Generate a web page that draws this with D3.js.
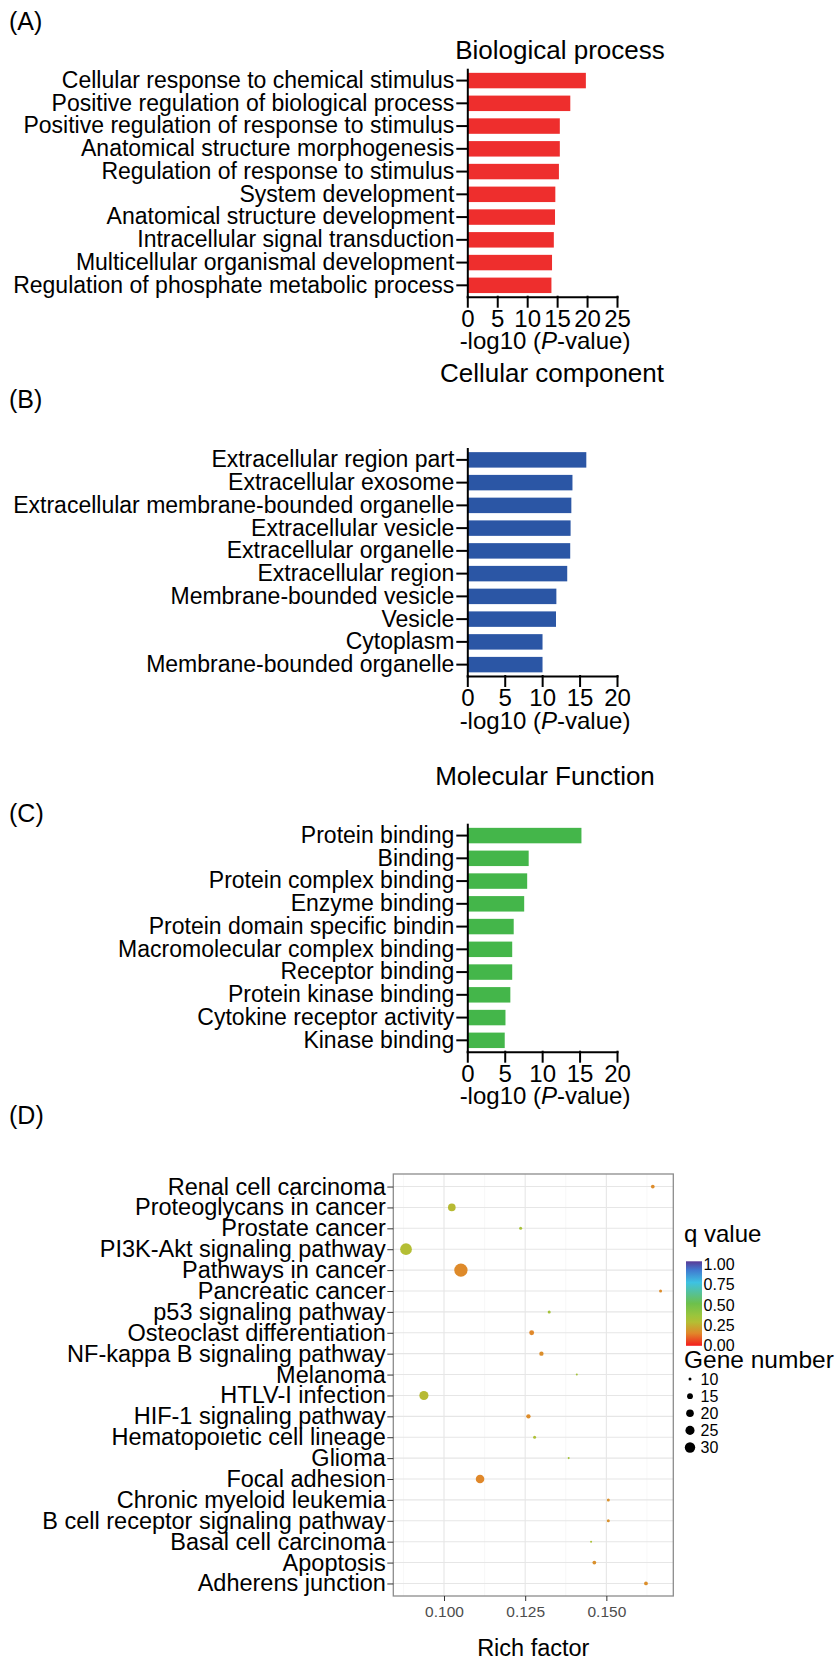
<!DOCTYPE html>
<html>
<head>
<meta charset="utf-8">
<script src="https://cdn.jsdelivr.net/npm/d3@7"></script>
<style>
  body { margin: 0; background: #fff; }
  svg { display: block; font-family: "Liberation Sans", Arial, Helvetica, sans-serif; }
</style>
</head>
<body>
<div id="chart"></div>
<script>
// GO enrichment, -log10(P-value)
const bpTerms = [
  'Cellular response to chemical stimulus',
  'Positive regulation of biological process',
  'Positive regulation of response to stimulus',
  'Anatomical structure morphogenesis',
  'Regulation of response to stimulus',
  'System development',
  'Anatomical structure development',
  'Intracellular signal transduction',
  'Multicellular organismal development',
  'Regulation of phosphate metabolic process'
]
const bpValues = [19.8, 17.2, 15.45, 15.45, 15.3, 14.7, 14.65, 14.45, 14.15, 14.05]
const bpTicks = [0, 5, 10, 15, 20, 25]

const ccTerms = [
  'Extracellular region part',
  'Extracellular exosome',
  'Extracellular membrane-bounded organelle',
  'Extracellular vesicle',
  'Extracellular organelle',
  'Extracellular region',
  'Membrane-bounded vesicle',
  'Vesicle',
  'Cytoplasm',
  'Membrane-bounded organelle'
]
const ccValues = [15.9, 14.05, 13.9, 13.8, 13.75, 13.35, 11.9, 11.85, 10.05, 10.05]
const ccTicks = [0, 5, 10, 15, 20]

const mfTerms = [
  'Protein binding',
  'Binding',
  'Protein complex binding',
  'Enzyme binding',
  'Protein domain specific bindin',
  'Macromolecular complex binding',
  'Receptor binding',
  'Protein kinase binding',
  'Cytokine receptor activity',
  'Kinase binding'
]
const mfValues = [15.25, 8.2, 8.0, 7.6, 6.2, 6.0, 6.0, 5.75, 5.1, 5.0]
const mfTicks = [0, 5, 10, 15, 20]

// KEGG pathways
const keggPathways = [
  'Renal cell carcinoma', 'Proteoglycans in cancer', 'Prostate cancer',
  'PI3K-Akt signaling pathway', 'Pathways in cancer', 'Pancreatic cancer',
  'p53 signaling pathway', 'Osteoclast differentiation', 'NF-kappa B signaling pathway',
  'Melanoma', 'HTLV-I infection', 'HIF-1 signaling pathway',
  'Hematopoietic cell lineage', 'Glioma', 'Focal adhesion',
  'Chronic myeloid leukemia', 'B cell receptor signaling pathway', 'Basal cell carcinoma',
  'Apoptosis', 'Adherens junction'
]
const keggRichFactor = [
  0.1643, 0.1024, 0.1236, 0.0883, 0.1052, 0.1667, 0.1324, 0.1270, 0.1300, 0.1409,
  0.0938, 0.1260, 0.1279, 0.1384, 0.1111, 0.1506, 0.1506, 0.1453, 0.1463, 0.1622
]
const keggGeneNumber = [11, 20, 10, 36, 44, 10, 10, 13, 12, 9, 25, 12, 10, 9, 23, 10, 10, 9, 11, 11]
const keggQValue = [
  0.16, 0.27, 0.32, 0.28, 0.155, 0.16, 0.33, 0.15, 0.165, 0.33,
  0.27, 0.16, 0.30, 0.33, 0.15, 0.17, 0.17, 0.31, 0.17, 0.165
]
const richTicks = [0.100, 0.125, 0.150]
const qTicks = [0, 0.25, 0.5, 0.75, 1]
const geneTicks = [10, 15, 20, 25, 30]

// colour ramp for q value
const qStops = [0, 0.15, 0.28, 0.36, 0.5, 0.75, 0.9, 1]
const qColors = ['#f41c1c', '#e0882a', '#b4be34', '#9ac53c', '#6dc04c', '#3ec2e2', '#4178cf', '#5a3a96']

const svg = d3.select('#chart').append('svg')
  .attr('width', 839)
  .attr('height', 1660)

// ---------- bar panels (A-C) ----------
function barPanel(o) {
  const g = svg.append('g')
  const x = d3.scaleLinear().domain([0, d3.max(o.ticks)]).range([467.3, 617])
  const y = d3.scaleBand()
    .domain(o.terms)
    .range([o.bottom - 227.5, o.bottom])
    .paddingInner(0.32)
    .paddingOuter(0.16)

  g.append('text')
    .attr('x', 9).attr('y', o.letterY)
    .style('font-size', '25px')
    .text(o.letter)

  g.append('text')
    .attr('x', o.titleX).attr('y', o.titleY)
    .attr('text-anchor', 'middle')
    .style('font-size', '26px')
    .text(o.title)

  g.selectAll('rect.bar')
    .data(o.values)
    .join('rect')
    .attr('class', 'bar')
    .attr('x', x(0))
    .attr('y', (d, i) => y(o.terms[i]))
    .attr('width', d => x(d) - x(0))
    .attr('height', y.bandwidth())
    .style('fill', o.color)

  const yAxis = g.append('g')
    .attr('transform', `translate(${x(0)},0)`)
    .call(d3.axisLeft(y).tickSize(10).tickPadding(3).tickSizeOuter(0))
  yAxis.attr('font-size', null).attr('font-family', null)
  yAxis.selectAll('text').style('font-size', '23px').style('fill', '#000')

  const xAxis = g.append('g')
    .attr('transform', `translate(0,${o.bottom})`)
    .call(d3.axisBottom(x).tickValues(o.ticks).tickSize(10).tickPadding(3).tickSizeOuter(0))
  xAxis.attr('font-size', null).attr('font-family', null)
  xAxis.selectAll('text').style('font-size', '24px').style('fill', '#000')

  g.selectAll('.domain, .tick line')
    .style('stroke', '#000')
    .style('stroke-width', 2)
    .style('stroke-linecap', 'square')

  const t = g.append('text')
    .attr('x', 545).attr('y', o.bottom + 52.5)
    .attr('text-anchor', 'middle')
    .style('font-size', '24px')
  t.append('tspan').text('-log10 (')
  t.append('tspan').style('font-style', 'italic').text('P')
  t.append('tspan').text('-value)')
}

barPanel({ letter: '(A)', letterY: 30, title: 'Biological process', titleX: 560, titleY: 59,
  terms: bpTerms, values: bpValues, ticks: bpTicks, color: '#ee2e2d', bottom: 296.7 })
barPanel({ letter: '(B)', letterY: 407.5, title: 'Cellular component', titleX: 552, titleY: 382,
  terms: ccTerms, values: ccValues, ticks: ccTicks, color: '#2b56a5', bottom: 676 })
barPanel({ letter: '(C)', letterY: 822, title: 'Molecular Function', titleX: 545, titleY: 785,
  terms: mfTerms, values: mfValues, ticks: mfTicks, color: '#44b64a', bottom: 1051.7 })

// ---------- KEGG bubble panel (D) ----------
const d = svg.append('g')
d.append('text')
  .attr('x', 9).attr('y', 1124)
  .style('font-size', '25px')
  .text('(D)')

const [rMin, rMax] = d3.extent(keggRichFactor)
const pad = (rMax - rMin) * 0.05
const rx = d3.scaleLinear().domain([rMin - pad, rMax + pad]).range([393.3, 673.3])
const ry = d3.scalePoint().domain(keggPathways).range([1174, 1596]).padding(0.6)
const color = d3.scaleLinear().domain(qStops).range(qColors).clamp(true)
const area = d3.scaleLinear().domain([10, 30]).range([2.25, 27])
const radius = n => Math.sqrt(Math.max(area(n), 0.8))

const [px0, px1] = rx.range()
const [py0, py1] = ry.range()

// grid
const step = richTicks[1] - richTicks[0]
const minor = richTicks.map(t => t - step / 2).concat([richTicks[richTicks.length - 1] + step / 2])
  .filter(v => v > rx.domain()[0] && v < rx.domain()[1])
d.selectAll('line.minor')
  .data(minor)
  .join('line')
  .attr('x1', v => rx(v)).attr('x2', v => rx(v))
  .attr('y1', py0).attr('y2', py1)
  .style('stroke', '#f3f3f3').style('stroke-width', 0.7)
d.selectAll('line.vmajor')
  .data(richTicks)
  .join('line')
  .attr('x1', v => rx(v)).attr('x2', v => rx(v))
  .attr('y1', py0).attr('y2', py1)
  .style('stroke', '#e6e6e6').style('stroke-width', 1.1)
d.selectAll('line.hmajor')
  .data(keggPathways)
  .join('line')
  .attr('x1', px0).attr('x2', px1)
  .attr('y1', c => ry(c)).attr('y2', c => ry(c))
  .style('stroke', '#e6e6e6').style('stroke-width', 1.1)

// bubbles
d.selectAll('circle.pt')
  .data(keggPathways)
  .join('circle')
  .attr('cx', (c, i) => rx(keggRichFactor[i]))
  .attr('cy', c => ry(c))
  .attr('r', (c, i) => radius(keggGeneNumber[i]))
  .style('fill', (c, i) => color(keggQValue[i]))

d.append('rect')
  .attr('x', px0).attr('y', py0)
  .attr('width', px1 - px0).attr('height', py1 - py0)
  .style('fill', 'none').style('stroke', '#8c8c8c').style('stroke-width', 1.3)

const dy = d.append('g')
  .attr('transform', `translate(${px0},0)`)
  .call(d3.axisLeft(ry).tickSize(6).tickPadding(1.5))
dy.attr('font-size', null).attr('font-family', null)
dy.select('.domain').remove()
dy.selectAll('.tick line').style('stroke', '#333').style('stroke-width', 1)
dy.selectAll('text').style('font-size', '23.5px').style('fill', '#000')

const dx = d.append('g')
  .attr('transform', `translate(0,${py1})`)
  .call(d3.axisBottom(rx).tickValues(richTicks).tickFormat(d3.format('.3f')).tickSize(5).tickPadding(4.5))
dx.attr('font-size', null).attr('font-family', null)
dx.select('.domain').remove()
dx.selectAll('.tick line').style('stroke', '#333').style('stroke-width', 1)
dx.selectAll('text').style('font-size', '15.5px').style('fill', '#4d4d4d')

d.append('text')
  .attr('x', (px0 + px1) / 2).attr('y', 1656)
  .attr('text-anchor', 'middle')
  .style('font-size', '23.5px')
  .text('Rich factor')

// q value legend
d.append('text')
  .attr('x', 684).attr('y', 1242)
  .style('font-size', '24px')
  .text('q value')

const qy = d3.scaleLinear().domain([0, 1]).range([1345.5, 1264])
const grad = svg.append('defs').append('linearGradient')
  .attr('id', 'qgrad')
  .attr('x1', 0).attr('y1', 1).attr('x2', 0).attr('y2', 0)
grad.selectAll('stop')
  .data(qStops)
  .join('stop')
  .attr('offset', s => s)
  .attr('stop-color', s => color(s))
d.append('rect')
  .attr('x', 686).attr('y', 1261.3)
  .attr('width', 16).attr('height', 84.5)
  .style('fill', 'url(#qgrad)')
d.selectAll('text.qlab')
  .data(qTicks)
  .join('text')
  .attr('class', 'qlab')
  .attr('x', 703.5).attr('y', v => qy(v))
  .attr('dy', '0.36em')
  .style('font-size', '16px')
  .text(d3.format('.2f'))

// gene number legend
d.append('text')
  .attr('x', 684).attr('y', 1368)
  .style('font-size', '24.5px')
  .text('Gene number')
const gy = d3.scalePoint().domain(geneTicks).range([1379, 1447.5])
d.selectAll('circle.gkey')
  .data(geneTicks)
  .join('circle')
  .attr('class', 'gkey')
  .attr('cx', 690).attr('cy', v => gy(v))
  .attr('r', v => radius(v))
  .style('fill', '#000')
d.selectAll('text.glab')
  .data(geneTicks)
  .join('text')
  .attr('class', 'glab')
  .attr('x', 700.5).attr('y', v => gy(v))
  .attr('dy', '0.36em')
  .style('font-size', '16px')
  .text(v => v)
</script>
</body>
</html>
